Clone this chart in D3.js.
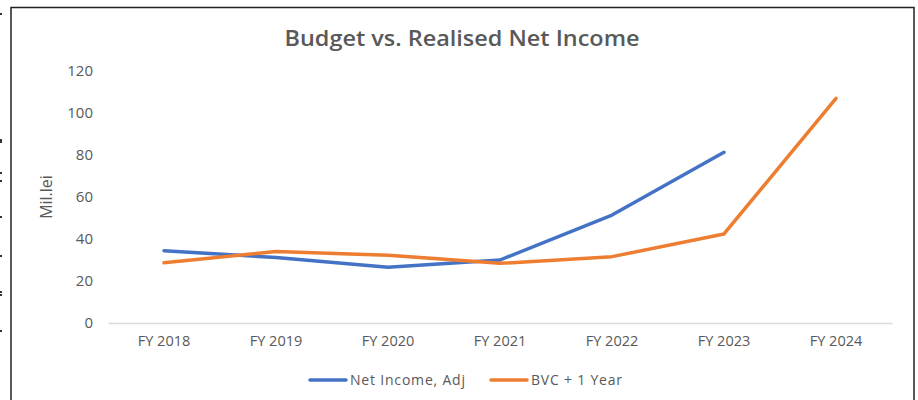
<!DOCTYPE html>
<html><head><meta charset="utf-8">
<script src="https://cdn.jsdelivr.net/npm/d3@7"></script>
<style>body{margin:0;background:#fff;} svg{display:block;}</style>
</head><body>
<svg id="c" width="918" height="400"></svg>
<script>
const categories = ["FY 2018","FY 2019","FY 2020","FY 2021","FY 2022","FY 2023","FY 2024"];
const netIncome = [34.4, 31.2, 26.6, 30.0, 51.4, 81.3, null];
const bvc = [28.7, 34.0, 32.3, 28.4, 31.6, 42.4, 107.0];
const yTicks = [0,20,40,60,80,100,120];
const seriesNames = ["Net Income, Adj", "BVC + 1 Year"];
const colors = ["#4472C4", "#ED7D31"];

const svg = d3.select("#c");
const font = "'Open Sans', 'Liberation Sans', sans-serif";
const txt = "#595959";

// frame
svg.append("path").attr("d","M11,402 V7.5 H914 V402").attr("fill","none").attr("stroke","#222").attr("stroke-width",1.5);
// edge marks
[13,139,141,172,180,216,255,291,294,330].forEach(y=>svg.append("rect").attr("x",0).attr("y",y).attr("width",2).attr("height",2).attr("fill","#333"));

const x = d3.scaleBand().domain(categories).range([108, 892]);
const y = d3.scaleLinear().domain([0,120]).range([323, 71]);

svg.append("text").attr("x",462).attr("y",46).attr("text-anchor","middle")
  .attr("font-family",font).attr("font-weight",600).attr("font-size",22).attr("fill",txt)
  .attr("textLength",355).attr("lengthAdjust","spacingAndGlyphs")
  .text("Budget vs. Realised Net Income");

// y axis labels
const ya = svg.append("g").attr("transform","translate(93,0)").call(d3.axisLeft(y).tickValues(yTicks).tickSize(0).tickPadding(0));
ya.select(".domain").remove();
ya.selectAll("text").attr("font-family",font).attr("font-size",15).attr("fill",txt);

// x axis
const xa = svg.append("g").attr("transform","translate(0,323)").call(d3.axisBottom(x).tickSize(0).tickPadding(13));
xa.select(".domain").attr("stroke","#d9d9d9").attr("stroke-width",1.3);
xa.selectAll("text").attr("font-family",font).attr("font-size",14.5).attr("fill",txt);

svg.append("text").attr("transform","translate(52,197) rotate(-90)").attr("text-anchor","middle")
  .attr("font-family",font).attr("font-size",16).attr("fill",txt).text("Mil.lei");

const line = d3.line().defined(d=>d.v!=null).x(d=>x(d.c)+x.bandwidth()/2).y(d=>y(d.v));
[netIncome, bvc].forEach((arr,i)=>{
  svg.append("path").datum(arr.map((v,j)=>({c:categories[j],v})))
    .attr("d",line).attr("fill","none").attr("stroke",colors[i]).attr("stroke-width",3.5)
    .attr("stroke-linejoin","round").attr("stroke-linecap","round");
});

// legend
const lg = [{x:310, t:350, w:115},{x:491,t:531, w:91}];
seriesNames.forEach((n,i)=>{
  svg.append("line").attr("x1",lg[i].x).attr("x2",lg[i].x+36).attr("y1",380).attr("y2",380)
    .attr("stroke",colors[i]).attr("stroke-width",3.5).attr("stroke-linecap","round");
  svg.append("text").attr("x",lg[i].t).attr("y",385).attr("font-family",font).attr("font-size",14)
    .attr("textLength",lg[i].w).attr("lengthAdjust","spacing").attr("fill",txt).text(n);
});
</script>
</body></html>
